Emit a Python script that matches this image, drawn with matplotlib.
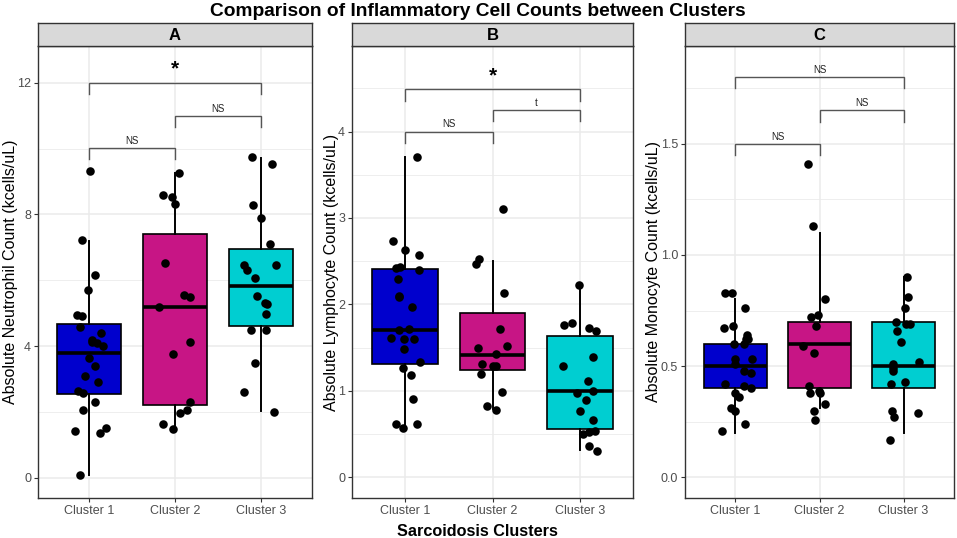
import matplotlib
matplotlib.use('Agg')
from matplotlib import pyplot as plt
from matplotlib.ticker import MultipleLocator
import numpy as np

plt.rcParams['font.family'] = ['Liberation Sans', 'DejaVu Sans']

clusters = ['Cluster 1', 'Cluster 2', 'Cluster 3']
colors = ['#0000CD', '#C71585', '#00CED1']

# Panel A - neutrophils
neut_c1 = [9.33, 7.22, 6.16, 5.70, 4.95, 4.90, 4.57, 4.41, 4.19, 4.11, 4.09, 4.01,
           3.63, 3.38, 3.09, 2.90, 2.64, 2.57, 2.29, 2.06, 1.42, 1.35, 1.50, 0.08]
neut_c1_jit = [0.01, -0.09, 0.07, -0.02, -0.15, -0.09, -0.11, 0.14, 0.03, 0.03, 0.09, 0.16,
               0.0, 0.06, -0.05, 0.10, -0.13, -0.08, 0.07, -0.07, -0.17, 0.12, 0.19, -0.11]
neut_c2 = [9.26, 8.58, 8.53, 8.31, 6.51, 5.56, 5.49, 5.18, 4.13, 3.77, 2.31, 2.06, 1.96, 1.62, 1.49]
neut_c2_jit = [0.05, -0.14, -0.03, 0.0, -0.12, 0.10, 0.18, -0.19, 0.18, -0.02, 0.17, 0.14, 0.06, -0.14, -0.02]
neut_c3 = [9.74, 9.53, 8.28, 7.88, 7.11, 6.47, 6.46, 6.32, 6.07, 5.52, 5.31, 5.28,
           4.97, 4.48, 4.49, 3.49, 2.60, 1.99]
neut_c3_jit = [-0.10, 0.13, -0.09, 0.01, 0.11, -0.19, 0.18, -0.16, -0.07, -0.04, 0.05, 0.07,
               0.06, -0.11, 0.06, -0.07, -0.19, 0.16]
neut_q1 = [2.54, 2.21, 4.62]
neut_med = [3.80, 5.20, 5.81]
neut_q3 = [4.67, 7.41, 6.96]
neut_lo = [0.08, 1.50, 2.01]
neut_hi = [7.18, 9.26, 9.72]
neut_brackets = [(1, 2, 10.02, 'NS'), (2, 3, 11.0, 'NS'), (1, 3, 12.0, '*')]

# Panel B - lymphocytes
lymph_c1 = [3.71, 2.73, 2.63, 2.57, 2.42, 2.43, 2.40, 2.29, 2.08, 2.10, 1.97, 1.72,
            1.70, 1.61, 1.60, 1.60, 1.48, 1.33, 1.26, 1.18, 0.91, 0.62, 0.62, 0.57]
lymph_c1_jit = [0.14, -0.13, 0.0, 0.16, -0.10, -0.05, 0.16, -0.08, -0.07, -0.06, 0.08, 0.05,
                -0.06, -0.16, -0.01, 0.11, -0.01, 0.17, -0.02, 0.07, 0.10, -0.10, 0.14, -0.02]
lymph_c2 = [3.10, 2.52, 2.47, 2.13, 1.71, 1.52, 1.49, 1.43, 1.31, 1.29, 1.29, 1.19, 0.99, 0.83, 0.78]
lymph_c2_jit = [0.12, -0.15, -0.19, 0.13, 0.08, 0.17, -0.17, 0.04, -0.12, 0.0, 0.04, -0.13, 0.11, -0.06, 0.04]
lymph_c3 = [2.22, 1.76, 1.78, 1.73, 1.69, 1.29, 1.39, 1.11, 1.00, 0.97, 0.89, 0.77,
            0.66, 0.50, 0.52, 0.53, 0.36, 0.30]
lymph_c3_jit = [-0.01, -0.19, -0.09, 0.10, 0.18, -0.20, 0.14, 0.09, 0.14, -0.04, 0.06, 0.0,
                0.14, 0.03, 0.10, 0.17, 0.10, 0.19]
lymph_q1 = [1.31, 1.245, 0.56]
lymph_med = [1.70, 1.41, 1.00]
lymph_q3 = [2.41, 1.90, 1.63]
lymph_lo = [0.55, 0.79, 0.31]
lymph_hi = [3.70, 2.50, 2.22]
lymph_brackets = [(1, 2, 4.0, 'NS'), (2, 3, 4.25, 't'), (1, 3, 4.49, '*')]

# Panel C - monocytes
mono_c1 = [0.83, 0.83, 0.76, 0.67, 0.68, 0.64, 0.62, 0.62, 0.60, 0.60, 0.53, 0.53,
           0.51, 0.48, 0.47, 0.42, 0.41, 0.40, 0.38, 0.36, 0.31, 0.30, 0.24, 0.21]
mono_c1_jit = [-0.12, -0.04, 0.11, -0.14, -0.03, 0.14, 0.13, 0.15, -0.02, 0.10, -0.01, 0.20,
               0.0, 0.10, 0.18, -0.13, 0.10, 0.19, -0.01, 0.04, -0.05, -0.01, 0.11, -0.16]
mono_c2 = [1.41, 1.13, 0.80, 0.72, 0.73, 0.68, 0.59, 0.56, 0.41, 0.38, 0.39, 0.38, 0.33, 0.30, 0.26]
mono_c2_jit = [-0.14, -0.08, 0.07, -0.10, -0.02, -0.04, -0.20, -0.07, -0.13, -0.11, -0.01, 0.0, 0.06, -0.06, -0.05]
mono_c3 = [0.90, 0.81, 0.76, 0.70, 0.69, 0.69, 0.66, 0.61, 0.52, 0.51, 0.49, 0.48,
           0.42, 0.43, 0.29, 0.30, 0.27, 0.17]
mono_c3_jit = [0.04, 0.05, 0.02, -0.09, 0.03, 0.08, -0.08, -0.03, 0.18, -0.12, -0.13, -0.12,
               -0.15, 0.02, 0.17, -0.14, -0.11, -0.16]
mono_q1 = [0.40, 0.40, 0.40]
mono_med = [0.50, 0.60, 0.50]
mono_q3 = [0.60, 0.70, 0.70]
mono_lo = [0.20, 0.31, 0.20]
mono_hi = [0.80, 1.10, 0.90]
mono_brackets = [(1, 2, 1.50, 'NS'), (2, 3, 1.65, 'NS'), (1, 3, 1.80, 'NS')]

W, H = 957, 538
fig = plt.figure(figsize=(W / 100, H / 100), dpi=100)


def px_axes(left, right, top, bottom):
    return fig.add_axes([left / W, 1 - bottom / H, (right - left) / W, (bottom - top) / H])


def draw_panel(left, right, letter, groups, jits, q1, med, q3, lo, hi, brackets,
               ylim, major, minor, fmt, ylabel):
    ax = px_axes(left, right, 46, 498)

    stats = []
    for i in range(3):
        stats.append(dict(med=med[i], q1=q1[i], q3=q3[i], whislo=lo[i], whishi=hi[i], fliers=[]))
    bp = ax.bxp(stats, positions=[1, 2, 3], widths=0.75, patch_artist=True, showcaps=False,
                boxprops=dict(edgecolor='black', linewidth=1.2),
                medianprops=dict(color='black', linewidth=2.6),
                whiskerprops=dict(color='black', linewidth=1.4))
    for patch, c in zip(bp['boxes'], colors):
        patch.set_facecolor(c)

    for i, (vals, jit) in enumerate(zip(groups, jits)):
        xs = np.array(jit) + i + 1
        ax.scatter(xs, vals, s=38, color='black', zorder=5, linewidths=0)

    rng = ylim[1] - ylim[0]
    drop = 0.025 * rng
    for x1, x2, y, lab in brackets:
        ax.plot([x1, x1, x2, x2], [y - drop, y, y, y - drop], color='#555555', lw=1.0,
                solid_joinstyle='miter')
        if lab == '*':
            ax.annotate(lab, ((x1 + x2) / 2, y), xytext=(0, 3), textcoords='offset points',
                        ha='center', va='bottom', fontsize=15, fontweight='bold')
        else:
            ax.annotate(lab, ((x1 + x2) / 2, y), xytext=(0, 1.5), textcoords='offset points',
                        ha='center', va='bottom', fontsize=7, color='#222222')

    ax.set_xlim(0.4, 3.6)
    ax.set_ylim(*ylim)
    ax.yaxis.set_major_locator(MultipleLocator(major))
    ax.yaxis.set_minor_locator(MultipleLocator(minor))
    ax.yaxis.set_major_formatter(fmt)
    ax.set_xticks([1, 2, 3])
    ax.set_xticklabels(clusters)
    ax.set_axisbelow(True)
    ax.grid(which='major', color='#EBEBEB', lw=1.1)
    ax.grid(which='minor', axis='y', color='#EBEBEB', lw=0.6)
    ax.tick_params(which='major', length=3, color='#333333', labelcolor='#4D4D4D',
                   labelsize=9, pad=2)
    ax.tick_params(which='minor', length=0)
    for s in ax.spines.values():
        s.set_color('#333333')
        s.set_linewidth(1.0)
    ax.set_ylabel(ylabel, fontsize=11.5, labelpad=-0.5)

    st = px_axes(left, right, 23, 46)
    st.set_facecolor('#D9D9D9')
    st.set_xticks([])
    st.set_yticks([])
    for s in st.spines.values():
        s.set_color('#333333')
        s.set_linewidth(1.0)
    st.text(0.5, 0.47, letter, ha='center', va='center', fontsize=12, fontweight='bold',
            transform=st.transAxes)
    return ax


draw_panel(38, 312, 'A', [neut_c1, neut_c2, neut_c3], [neut_c1_jit, neut_c2_jit, neut_c3_jit],
           neut_q1, neut_med, neut_q3, neut_lo, neut_hi, neut_brackets,
           (-0.62, 13.12), 4, 2, '{x:.0f}', 'Absolute Neutrophil Count (kcells/uL)')
draw_panel(352, 633, 'B', [lymph_c1, lymph_c2, lymph_c3], [lymph_c1_jit, lymph_c2_jit, lymph_c3_jit],
           lymph_q1, lymph_med, lymph_q3, lymph_lo, lymph_hi, lymph_brackets,
           (-0.24, 4.99), 1, 0.5, '{x:.0f}', 'Absolute Lymphocyte Count (kcells/uL)')
draw_panel(685, 954, 'C', [mono_c1, mono_c2, mono_c3], [mono_c1_jit, mono_c2_jit, mono_c3_jit],
           mono_q1, mono_med, mono_q3, mono_lo, mono_hi, mono_brackets,
           (-0.093, 1.94), 0.5, 0.25, '{x:.1f}', 'Absolute Monocyte Count (kcells/uL)')

fig.text(477.5 / W, 1 - 15.5 / H, 'Comparison of Inflammatory Cell Counts between Clusters',
         ha='center', va='baseline', fontsize=13.8, fontweight='bold')
fig.text(477 / W, 1 - 535.5 / H, 'Sarcoidosis Clusters', ha='center', va='baseline',
         fontsize=11.7, fontweight='bold')

fig.savefig('out.png', dpi=100)
